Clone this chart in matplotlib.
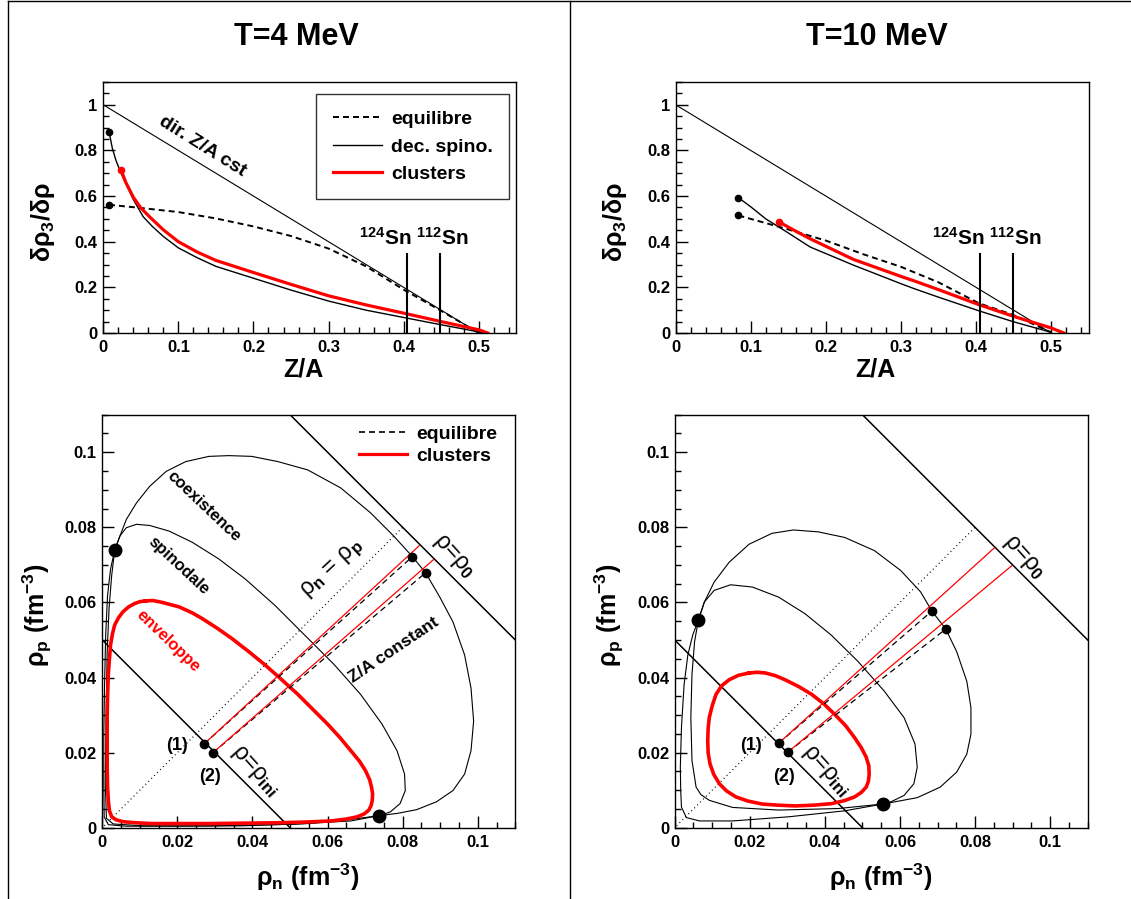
import matplotlib
matplotlib.use('Agg')
import matplotlib.pyplot as plt
from matplotlib.lines import Line2D

plt.rcParams.update({
    'font.family': ['Liberation Sans', 'DejaVu Sans'],
    'font.weight': 'bold',
    'mathtext.fontset': 'custom',
    'mathtext.rm': 'Liberation Sans',
    'mathtext.bf': 'Liberation Sans:bold',
    'mathtext.it': 'Liberation Sans:italic',
    'mathtext.sf': 'Liberation Sans',
    'lines.scale_dashes': False,
    'axes.linewidth': 1.0,
})

# ---------------- data ----------------
titles = ['T=4 MeV', 'T=10 MeV']
top_xticks = [0, 0.1, 0.2, 0.3, 0.4, 0.5]
top_xticklabels = ['0', '0.1', '0.2', '0.3', '0.4', '0.5']
top_yticks = [0, 0.2, 0.4, 0.6, 0.8, 1.0]
top_yticklabels = ['0', '0.2', '0.4', '0.6', '0.8', '1']
bot_ticks = [0, 0.02, 0.04, 0.06, 0.08, 0.1]
bot_ticklabels = ['0', '0.02', '0.04', '0.06', '0.08', '0.1']

# Z/A constant direction line
dir_x = [0.0, 0.5]
dir_y = [1.0, 0.0]
sn_x = [0.405, 0.449]
sn_top = 0.345

# T=4 top panel
t4_eq_x = [0.0076, 0.05, 0.1, 0.15, 0.2, 0.25, 0.3, 0.35, 0.4, 0.45, 0.5]
t4_eq_y = [0.562, 0.548, 0.53, 0.502, 0.467, 0.425, 0.37, 0.292, 0.19, 0.097, 0.0]
t4_sp_x = [0.0076, 0.012, 0.017, 0.023, 0.03, 0.04, 0.053, 0.065, 0.08, 0.1, 0.125,
           0.15, 0.2, 0.25, 0.3, 0.35, 0.4, 0.45, 0.5, 0.505]
t4_sp_y = [0.883, 0.81, 0.755, 0.705, 0.655, 0.585, 0.51, 0.468, 0.423, 0.373, 0.33,
           0.292, 0.24, 0.188, 0.14, 0.1, 0.068, 0.036, 0.005, 0.0]
t4_cl_x = [0.0236, 0.03, 0.04, 0.05, 0.062, 0.08, 0.1, 0.125, 0.15, 0.2, 0.25, 0.3,
           0.35, 0.4, 0.45, 0.5, 0.512]
t4_cl_y = [0.715, 0.66, 0.595, 0.548, 0.508, 0.452, 0.4, 0.355, 0.318, 0.265, 0.213,
           0.163, 0.123, 0.087, 0.05, 0.014, 0.0]

# T=10 top panel
t10_eq_x = [0.0835, 0.1, 0.1435, 0.2, 0.25, 0.3, 0.35, 0.404, 0.449, 0.5]
t10_eq_y = [0.515, 0.5, 0.46, 0.405, 0.345, 0.29, 0.222, 0.13, 0.08, 0.003]
t10_sp_x = [0.0835, 0.1, 0.12, 0.1435, 0.179, 0.2, 0.237, 0.3, 0.317, 0.35, 0.404, 0.449, 0.5]
t10_sp_y = [0.593, 0.553, 0.5, 0.452, 0.377, 0.348, 0.297, 0.216, 0.195, 0.157, 0.097, 0.05, 0.003]
t10_cl_x = [0.138, 0.16, 0.179, 0.2, 0.237, 0.3, 0.317, 0.35, 0.404, 0.449, 0.5, 0.517]
t10_cl_y = [0.486, 0.446, 0.413, 0.38, 0.322, 0.248, 0.229, 0.19, 0.124, 0.074, 0.022, 0.0]

# T=4 bottom panel (rho_n, rho_p)
t4_coex_x = [0.0033, 0.0047, 0.0064, 0.0091, 0.0126, 0.0170, 0.0222, 0.0284, 0.0337,
             0.0398, 0.0468, 0.0547, 0.0635, 0.0714, 0.0776, 0.0826, 0.0861, 0.0899,
             0.0934, 0.0965, 0.0982, 0.0989, 0.0982, 0.0965, 0.0934, 0.0890, 0.0837,
             0.0785, 0.0736, 0.0662, 0.0547, 0.0372, 0.0196, 0.0064, 0.0016, 0.0005,
             0.0004, 0.0004, 0.0006, 0.0009, 0.0014, 0.0022, 0.0033]
t4_coex_y = [0.0739, 0.0777, 0.0821, 0.0865, 0.0909, 0.0949, 0.0975, 0.0989, 0.0991,
             0.0989, 0.0975, 0.0953, 0.0905, 0.0839, 0.0777, 0.0722, 0.0679, 0.0614,
             0.0548, 0.0460, 0.0372, 0.0284, 0.0205, 0.0143, 0.0099, 0.0069, 0.0048,
             0.0038, 0.0032, 0.0022, 0.0011, 0.0005, 0.0004, 0.0004, 0.0008, 0.0029,
             0.0117, 0.0249, 0.0381, 0.0513, 0.0619, 0.0689, 0.0739]
t4_spin_x = [0.0033, 0.0047, 0.0064, 0.0091, 0.0126, 0.0178, 0.0240, 0.0310, 0.0380,
             0.0460, 0.0539, 0.0618, 0.0688, 0.0745, 0.0785, 0.0805, 0.0807, 0.0793,
             0.0767, 0.0736, 0.0662, 0.0504, 0.0284, 0.0108, 0.0029, 0.0011, 0.0008,
             0.0010, 0.0013, 0.0018, 0.0025, 0.0033]
t4_spin_y = [0.0739, 0.0777, 0.0799, 0.0808, 0.0805, 0.0790, 0.0760, 0.0716, 0.0663,
             0.0592, 0.0513, 0.0434, 0.0355, 0.0276, 0.0205, 0.0143, 0.0099, 0.0064,
             0.0042, 0.0032, 0.0018, 0.0009, 0.0005, 0.0005, 0.0010, 0.0025, 0.0117,
             0.0293, 0.0469, 0.0584, 0.0672, 0.0739]
t4_env_x = [0.0115, 0.0135, 0.0160, 0.0205, 0.0240, 0.0266, 0.0305, 0.0345, 0.0390,
            0.0433, 0.0477, 0.0521, 0.0560, 0.0600, 0.0633, 0.0662, 0.0685, 0.0701,
            0.0712, 0.0717, 0.0720, 0.0719, 0.0716, 0.0710, 0.0698, 0.0679, 0.0650,
            0.0609, 0.0540, 0.0460, 0.0370, 0.0284, 0.0200, 0.0134, 0.0090, 0.0055,
            0.0037, 0.0025, 0.0019, 0.0016, 0.0014, 0.0013, 0.0013, 0.0013, 0.0014,
            0.0016, 0.0019, 0.0022, 0.0027, 0.0033, 0.0043, 0.0055, 0.0070, 0.0086,
            0.0100, 0.0115]
t4_env_y = [0.0604, 0.0605, 0.0600, 0.0588, 0.0572, 0.0557, 0.0532, 0.0504, 0.0469,
            0.0434, 0.0395, 0.0355, 0.0316, 0.0276, 0.0240, 0.0205, 0.0177, 0.0152,
            0.0128, 0.0108, 0.0090, 0.0073, 0.0059, 0.0047, 0.0037, 0.0029, 0.0023,
            0.0018, 0.0015, 0.0013, 0.0012, 0.0011, 0.0011, 0.0011, 0.0013, 0.0016,
            0.0021, 0.0029, 0.0045, 0.0073, 0.0110, 0.0161, 0.0230, 0.0293, 0.0350,
            0.0408, 0.0450, 0.0487, 0.0516, 0.0540, 0.0559, 0.0575, 0.0588, 0.0597,
            0.0602, 0.0604]
t4_big_x = [0.0033, 0.0736]
t4_big_y = [0.0739, 0.0032]
t4_ini_x = [0.0271, 0.0294]
t4_ini_y = [0.0223, 0.0199]
t4_eqend_x = [0.0826, 0.0861]
t4_eqend_y = [0.0722, 0.0679]
t4_clend_x = [0.0844, 0.0882]
t4_clend_y = [0.0751, 0.0714]

# T=10 bottom panel
t10_coex_x = [0.0063, 0.0079, 0.0105, 0.0145, 0.0198, 0.0259, 0.0316, 0.0382, 0.0453,
              0.0532, 0.0602, 0.0655, 0.0685, 0.0722, 0.0751, 0.0778, 0.0789, 0.0789,
              0.0778, 0.0751, 0.0707, 0.0646, 0.0554, 0.0453, 0.0303, 0.0154, 0.0066,
              0.0031, 0.0018, 0.0016, 0.0015, 0.0018, 0.0025, 0.0035, 0.0048, 0.0063]
t10_coex_y = [0.0553, 0.0601, 0.0654, 0.0707, 0.0755, 0.0784, 0.0793, 0.0788, 0.0773,
              0.0738, 0.0685, 0.0628, 0.0577, 0.0529, 0.0469, 0.0390, 0.0320, 0.0249,
              0.0196, 0.0148, 0.0108, 0.0080, 0.0063, 0.0045, 0.0029, 0.0018, 0.0018,
              0.0027, 0.0055, 0.0100, 0.0161, 0.0267, 0.0381, 0.0460, 0.0513, 0.0553]
t10_spin_x = [0.0063, 0.0079, 0.0105, 0.0149, 0.0207, 0.0277, 0.0347, 0.0417, 0.0488,
              0.0558, 0.0611, 0.0640, 0.0646, 0.0637, 0.0611, 0.0576, 0.0554, 0.0435,
              0.0277, 0.0154, 0.0092, 0.0070, 0.0057, 0.0046, 0.0043, 0.0046, 0.0053,
              0.0063]
t10_spin_y = [0.0553, 0.0601, 0.0632, 0.0647, 0.0641, 0.0614, 0.0570, 0.0513, 0.0443,
              0.0364, 0.0293, 0.0223, 0.0161, 0.0117, 0.0086, 0.0069, 0.0063, 0.0051,
              0.0047, 0.0054, 0.0073, 0.0088, 0.0108, 0.0179, 0.0293, 0.0408, 0.0496,
              0.0553]
t10_env_x = [0.0198, 0.0220, 0.0242, 0.0268, 0.0294, 0.0330, 0.0365, 0.0397, 0.0426,
             0.0455, 0.0479, 0.0497, 0.0510, 0.0517, 0.0518, 0.0516, 0.0510, 0.0497,
             0.0479, 0.0452, 0.0417, 0.0370, 0.0321, 0.0275, 0.0233, 0.0195, 0.0163,
             0.0138, 0.0119, 0.0104, 0.0094, 0.0089, 0.0088, 0.0089, 0.0092, 0.0100,
             0.0110, 0.0125, 0.0145, 0.0170, 0.0198]
t10_env_y = [0.0412, 0.0414, 0.0412, 0.0405, 0.0394, 0.0376, 0.0355, 0.0330, 0.0302,
             0.0272, 0.0240, 0.0213, 0.0188, 0.0165, 0.0143, 0.0124, 0.0108, 0.0094,
             0.0082, 0.0072, 0.0064, 0.0060, 0.0058, 0.0060, 0.0063, 0.0071, 0.0082,
             0.0098, 0.0117, 0.0142, 0.0170, 0.0200, 0.0232, 0.0263, 0.0293, 0.0325,
             0.0355, 0.0378, 0.0394, 0.0406, 0.0412]
t10_big_x = [0.0063, 0.0554]
t10_big_y = [0.0553, 0.0063]
t10_ini_x = [0.0277, 0.0301]
t10_ini_y = [0.0225, 0.0201]
t10_eqend_x = [0.0685, 0.0722]
t10_eqend_y = [0.0577, 0.0529]
t10_clend_x = [0.0851, 0.0898]
t10_clend_y = [0.0745, 0.0698]

rho0 = 0.16
rho_ini = 0.05
diag_end = 0.08

RED = '#ff0000'
DASH = (0, (4.3, 2.9))
DOT = (0, (0.7, 2.3))

W, H = 1131, 899
fig = plt.figure(figsize=(W / 100, H / 100), dpi=100)

# outer frame and divider
for xs, ys in [([8 / W, 8 / W], [0, 1 - 1.2 / H]), ([8 / W, 1], [1 - 1.2 / H, 1 - 1.2 / H]),
               ([570 / W, 570 / W], [0, 1 - 1.2 / H])]:
    fig.add_artist(Line2D(xs, ys, color='black', lw=1.0, transform=fig.transFigure))

fig.text(296 / W, 1 - 37 / H, titles[0], ha='center', va='center', fontsize=22, fontweight='bold')
fig.text(877 / W, 1 - 37 / H, titles[1], ha='center', va='center', fontsize=22, fontweight='bold')

col_left = [103.3, 675.7]
top_axes = [fig.add_axes([l / W, 1 - 333 / H, 413 / W, 251 / H]) for l in col_left]
bot_axes = [fig.add_axes([(l - 1) / W, 1 - 827.7 / H, 413 / W, 413 / H]) for l in col_left]


def style(ax, xt, xtl, yt, ytl, xminor, yminor):
    ax.set_xticks(xt)
    ax.set_xticklabels(xtl)
    ax.set_yticks(yt)
    ax.set_yticklabels(ytl)
    ax.set_xticks(xminor, minor=True)
    ax.set_yticks(yminor, minor=True)
    ax.tick_params(which='both', direction='in', top=False, right=False, width=1.0,
                   labelsize=12)
    ax.tick_params(which='major', length=8.6)
    ax.tick_params(which='minor', length=4.3)
    ax.tick_params(axis='x', pad=5)
    ax.tick_params(axis='y', pad=4)
    for lab in ax.get_xticklabels() + ax.get_yticklabels():
        lab.set_fontweight('bold')


top_xminor = [i * 0.02 for i in range(28) if i * 0.02 <= 0.55]
top_yminor = [i * 0.05 for i in range(23) if i * 0.05 <= 1.1]
bot_minor = [i * 0.005 for i in range(23) if i * 0.005 <= 0.11]

ylab_top = r'$\mathrm{\delta\rho}_{\mathbf{3}}\mathbf{/}\mathrm{\delta\rho}$'
ylab_bot = r'$\mathrm{\rho}_{\mathbf{p}}\ \mathbf{(fm}^{\mathbf{-3}}\mathbf{)}$'
xlab_bot = r'$\mathrm{\rho}_{\mathbf{n}}\ \mathbf{(fm}^{\mathbf{-3}}\mathbf{)}$'

top_sets = [
    (t4_eq_x, t4_eq_y, t4_sp_x, t4_sp_y, t4_cl_x, t4_cl_y),
    (t10_eq_x, t10_eq_y, t10_sp_x, t10_sp_y, t10_cl_x, t10_cl_y),
]

for i, ax in enumerate(top_axes):
    eqx, eqy, spx, spy, clx, cly = top_sets[i]
    ax.set_xlim(0, 0.55)
    ax.set_ylim(0, 1.1)
    style(ax, top_xticks, top_xticklabels, top_yticks, top_yticklabels, top_xminor, top_yminor)
    ax.plot(dir_x, dir_y, color='black', lw=0.8)
    ax.plot(eqx, eqy, color='black', lw=1.4, linestyle=DASH, label='equilibre')
    ax.plot(spx, spy, color='black', lw=1.0, label='dec. spino.')
    ax.plot(clx, cly, color=RED, lw=2.3, label='clusters')
    ax.plot([eqx[0]], [eqy[0]], 'o', color='black', ms=4.5)
    ax.plot([spx[0]], [spy[0]], 'o', color='black', ms=4.5)
    ax.plot([clx[0]], [cly[0]], 'o', color=RED, ms=4.5)
    for sx in sn_x:
        ax.plot([sx, sx], [0, sn_top], color='black', lw=1.5)
    ax.text(0.3756, 0.385, r'$^{\mathbf{124}}$Sn', fontsize=15, fontweight='bold',
            ha='center', va='baseline')
    ax.text(0.4516, 0.385, r'$^{\mathbf{112}}$Sn', fontsize=15, fontweight='bold',
            ha='center', va='baseline')
    ax.set_xlabel('Z/A', fontsize=18, fontweight='bold', va='center')
    ax.xaxis.set_label_coords(0.4835, -0.147)
    ax.set_ylabel(ylab_top, fontsize=18, va='center')
    ax.yaxis.set_label_coords(-0.146, 0.442)

top_axes[0].text(0.1316, 0.817, 'dir. Z/A cst', fontsize=14, fontweight='bold',
                 rotation=-32, rotation_mode='anchor', ha='center', va='center')
leg = top_axes[0].legend(loc='upper left', bbox_to_anchor=(0.515, 0.952), borderaxespad=0,
                         fontsize=14, frameon=True, fancybox=False, edgecolor='black',
                         handlelength=2.55, handletextpad=0.45, borderpad=0.85,
                         labelspacing=0.5)
leg.get_frame().set_linewidth(1.0)
for t in leg.get_texts():
    t.set_fontweight('bold')

bot_sets = [
    (t4_coex_x, t4_coex_y, t4_spin_x, t4_spin_y, t4_env_x, t4_env_y, t4_big_x, t4_big_y,
     t4_ini_x, t4_ini_y, t4_eqend_x, t4_eqend_y, t4_clend_x, t4_clend_y),
    (t10_coex_x, t10_coex_y, t10_spin_x, t10_spin_y, t10_env_x, t10_env_y, t10_big_x,
     t10_big_y, t10_ini_x, t10_ini_y, t10_eqend_x, t10_eqend_y, t10_clend_x, t10_clend_y),
]

for i, ax in enumerate(bot_axes):
    (cx, cy, sx_, sy_, ex, ey, bx, by, ix, iy, qx, qy, rx, ry) = bot_sets[i]
    ax.set_xlim(0, 0.11)
    ax.set_ylim(0, 0.11)
    style(ax, bot_ticks, bot_ticklabels, bot_ticks, bot_ticklabels, bot_minor, bot_minor)
    ax.plot([0, rho0], [rho0, 0], color='black', lw=1.1)
    ax.plot([0, rho_ini], [rho_ini, 0], color='black', lw=1.1)
    ax.plot([0.0005, diag_end], [0.0005, diag_end], color='black', lw=0.9, linestyle=DOT)
    ax.plot(cx, cy, color='black', lw=0.8)
    ax.plot(sx_, sy_, color='black', lw=0.8)
    ax.plot(ex, ey, color=RED, lw=2.6)
    for k in range(2):
        ax.plot([ix[k], qx[k]], [iy[k], qy[k]], color='black', lw=0.9, linestyle=DASH)
        ax.plot([ix[k], rx[k]], [iy[k], ry[k]], color=RED, lw=0.9)
    ax.plot(bx, by, 'o', color='black', ms=9)
    ax.plot(ix, iy, 'o', color='black', ms=6)
    ax.plot(qx, qy, 'o', color='black', ms=6)
    ax.set_xlabel(xlab_bot, fontsize=18, va='center')
    ax.xaxis.set_label_coords(0.498, -0.119)
    ax.set_ylabel(ylab_bot, fontsize=18, va='center')
    ax.yaxis.set_label_coords(-0.158, 0.515)

# annotations bottom-left
b0 = bot_axes[0]
b0.text(0.0271, 0.0857, 'coexistence', fontsize=12, fontweight='bold', rotation=-43.5,
        rotation_mode='anchor', ha='center', va='center')
b0.text(0.0205, 0.0698, 'spinodale', fontsize=12, fontweight='bold', rotation=-43,
        rotation_mode='anchor', ha='center', va='center')
b0.text(0.0174, 0.0496, 'enveloppe', fontsize=12, fontweight='bold', color=RED,
        rotation=-44, rotation_mode='anchor', ha='center', va='center')
b0.text(0.0776, 0.0474, 'Z/A constant', fontsize=12.5, fontweight='bold', rotation=34,
        rotation_mode='anchor', ha='center', va='center')
b0.text(0.0613, 0.0688, r'ρ$_{\mathbf{n}}$ = ρ$_{\mathbf{p}}$', fontweight='normal',
        fontsize=17, rotation=43, rotation_mode='anchor', ha='center', va='center')

rho0_lab = r'ρ=ρ$_{\mathbf{0}}$'
rhoini_lab = r'ρ=ρ$_{\mathbf{ini}}$'
lab_pos = [
    ((0.0936, 0.0723), (0.0405, 0.0151), (0.020, 0.0218), (0.0288, 0.0136)),
    ((0.0929, 0.0720), (0.0402, 0.0151), (0.0202, 0.0218), (0.0290, 0.0136)),
]
for i, ax in enumerate(bot_axes):
    p0, pini, p1, p2 = lab_pos[i]
    ax.text(*p0, rho0_lab, fontsize=17, fontweight='normal', rotation=-48,
            rotation_mode='anchor', ha='center', va='center')
    ax.text(*pini, rhoini_lab, fontsize=17, fontweight='normal', rotation=-48,
            rotation_mode='anchor', ha='center', va='center')
    ax.text(*p1, '(1)', fontsize=13, fontweight='bold', ha='center', va='center')
    ax.text(*p2, '(2)', fontsize=13, fontweight='bold', ha='center', va='center')

h_eq = Line2D([], [], color='black', lw=1.2, linestyle=DASH)
h_cl = Line2D([], [], color=RED, lw=2.3)
leg2 = b0.legend([h_eq, h_cl], ['equilibre', 'clusters'], loc='upper left',
                 bbox_to_anchor=(0.6215, 0.975), borderaxespad=0, borderpad=0,
                 frameon=False, fontsize=14, handlelength=2.45, handletextpad=0.5,
                 labelspacing=0.25)
for t in leg2.get_texts():
    t.set_fontweight('bold')

fig.savefig('out.png', dpi=100)
